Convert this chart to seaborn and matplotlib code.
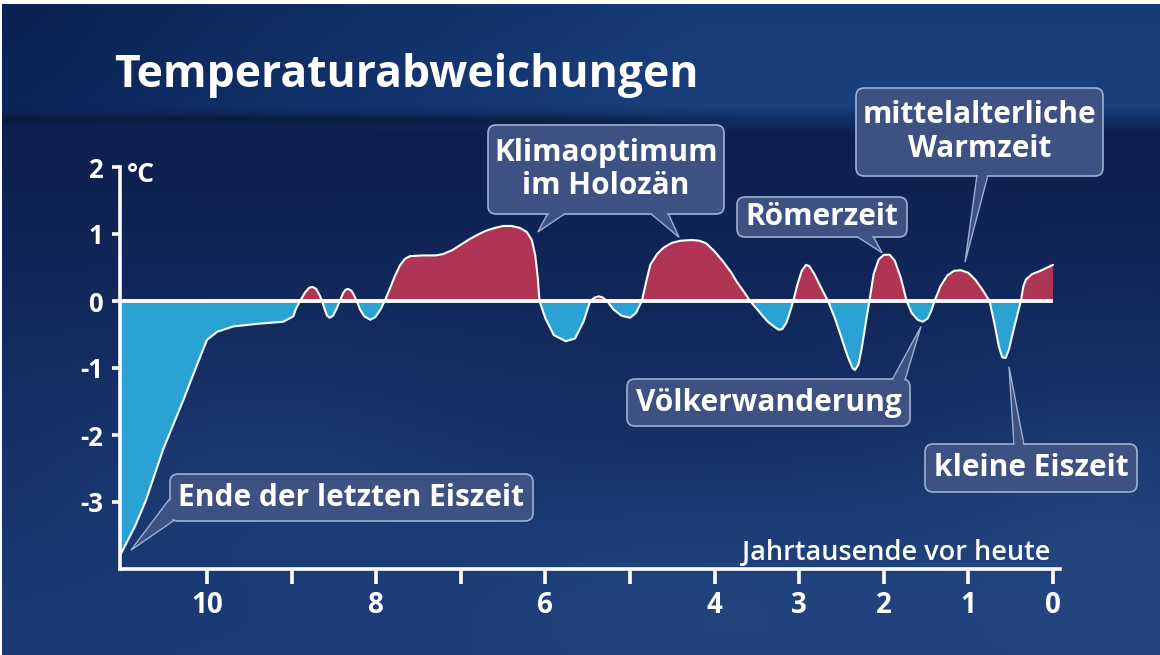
import numpy as np
import matplotlib
matplotlib.use("Agg")
import matplotlib.pyplot as plt
from matplotlib.patches import FancyBboxPatch, Polygon
import seaborn as sns

# Jahrtausende vor heute
kyr = [11.02, 10.85, 10.72, 10.52, 10.28, 10.12, 10.0, 9.88, 9.69, 9.4, 9.1, 8.98,
       8.95, 8.9, 8.84, 8.79, 8.75, 8.71, 8.67, 8.64, 8.61, 8.58, 8.55, 8.51, 8.47,
       8.43, 8.39, 8.36, 8.33, 8.29, 8.26, 8.23, 8.19, 8.14, 8.07, 8.01, 7.95, 7.9,
       7.84, 7.78, 7.72, 7.66, 7.6, 7.45, 7.3, 7.21, 7.1, 7.0, 6.9, 6.8, 6.7, 6.6,
       6.5, 6.4, 6.3, 6.22, 6.16, 6.12, 6.09, 6.07, 6.0, 5.9, 5.76, 5.65, 5.55, 5.47,
       5.42, 5.37, 5.32, 5.27, 5.2, 5.1, 5.0, 4.93, 4.86, 4.81, 4.76, 4.68, 4.6, 4.5,
       4.4, 4.27, 4.18, 4.1, 4.0, 3.9, 3.8, 3.74, 3.66, 3.58, 3.5, 3.42, 3.37, 3.3,
       3.24, 3.2, 3.15, 3.11, 3.07, 3.02, 2.97, 2.92, 2.88, 2.82, 2.75, 2.66, 2.58,
       2.5, 2.43, 2.37, 2.34, 2.3, 2.26, 2.22, 2.17, 2.12, 2.06, 2.0, 1.93, 1.87, 1.8,
       1.73, 1.67, 1.6, 1.54, 1.48, 1.44, 1.40, 1.33, 1.25, 1.17, 1.09, 1.0, 0.92,
       0.84, 0.75, 0.69, 0.64, 0.6, 0.56, 0.52, 0.47, 0.42, 0.38, 0.35, 0.32, 0.25,
       0.15, 0.05, 0.0]

# Temperaturabweichung in °C
temp = [-3.78, -3.36, -2.97, -2.22, -1.48, -0.96, -0.58, -0.46, -0.38, -0.34, -0.31, -0.23,
        -0.12, 0.0, 0.13, 0.2, 0.21, 0.18, 0.09, 0.0, -0.12, -0.22, -0.25, -0.22, -0.12,
        0.0, 0.12, 0.17, 0.18, 0.15, 0.08, 0.0, -0.13, -0.23, -0.28, -0.24, -0.13, 0.0,
        0.18, 0.37, 0.53, 0.63, 0.67, 0.68, 0.68, 0.70, 0.76, 0.84, 0.92, 0.99, 1.05, 1.09,
        1.12, 1.12, 1.09, 1.03, 0.91, 0.68, 0.35, 0.0, -0.26, -0.51, -0.60, -0.56, -0.31, 0.0,
        0.05, 0.07, 0.05, 0.0, -0.12, -0.22, -0.25, -0.18, 0.0, 0.28, 0.54, 0.70, 0.80, 0.87,
        0.90, 0.91, 0.90, 0.86, 0.74, 0.59, 0.42, 0.29, 0.15, 0.0, -0.12, -0.24, -0.31, -0.38,
        -0.43, -0.42, -0.32, -0.17, 0.0, 0.25, 0.45, 0.54, 0.52, 0.40, 0.22, 0.0, -0.25,
        -0.55, -0.82, -1.0, -1.03, -0.95, -0.70, -0.38, 0.0, 0.40, 0.62, 0.69, 0.69, 0.60, 0.35,
        0.0, -0.18, -0.28, -0.31, -0.26, -0.15, 0.0, 0.22, 0.38, 0.45, 0.46, 0.42, 0.32,
        0.18, 0.0, -0.35, -0.68, -0.84, -0.85, -0.72, -0.45, -0.20, 0.0, 0.22, 0.32, 0.40,
        0.45, 0.51, 0.54]

x_ticks = [10, 9, 8, 7, 6, 5, 4, 3, 2, 1, 0]
x_labels = ["10", "", "8", "", "6", "", "4", "3", "2", "1", "0"]
y_ticks = [-3, -2, -1, 0, 1, 2]
y_labels = ["-3", "-2", "-1", "0", "1", "2"]

# text, box in pixels (x0, y0, x1, y1), pointers: (base a, base b, tip in data coords)
callouts = [
    ("Klimaoptimum\nim Holozän", (488, 125, 724, 214),
     [((548, 213), (566, 213), (6.09, 1.03)), ((650, 213), (668, 213), (4.42, 0.95))]),
    ("Römerzeit", (737, 197, 907, 237), [((856, 236), (873, 236), (2.02, 0.72))]),
    ("mittelalterliche\nWarmzeit", (856, 88, 1103, 176), [((977, 175), (988, 175), (1.04, 0.58))]),
    ("Völkerwanderung", (627, 379, 910, 426), [((892, 380), (905, 380), (1.56, -0.38))]),
    ("kleine Eiszeit", (925, 444, 1137, 492), [((1014, 445), (1024, 445), (0.52, -0.98))]),
    ("Ende der letzten Eiszeit", (170, 474, 533, 521), [((171, 497), (176, 519), (10.9, -3.72))]),
]

RED = "#b03453"
BLUE = "#2aa2d4"
BOX_FACE = "#3d5283"
BOX_EDGE = "#9db0d4"

sns.set_theme(style="ticks")
plt.rcParams["font.family"] = ["Open Sans", "DejaVu Sans"]

W, H = 1160, 655
fig = plt.figure(figsize=(W / 100, H / 100), dpi=100, facecolor="white")

# background picture (TV graphic look)
yy, xx = np.mgrid[0:H, 0:W].astype(float)
top = np.array([13, 31, 78]) / 255
bot = np.array([27, 58, 116]) / 255
t = np.clip((yy - 120) / 535, 0, 1)[..., None]
bg = top * (1 - t) + bot * t
fog = np.exp(-((xx - 720) / 330) ** 2 - ((yy - 600) / 110) ** 2)[..., None] * 0.45
fog2 = np.exp(-((xx - 1120) / 200) ** 2 - ((yy - 560) / 160) ** 2)[..., None] * 0.5
fog3 = np.exp(-((xx - 260) / 220) ** 2 - ((yy - 470) / 120) ** 2)[..., None] * 0.25
light = np.array([44, 82, 142]) / 255
for f in (fog, fog2, fog3):
    bg = bg * (1 - f) + light * f
band_l = np.array([12, 36, 88]) / 255
band_r = np.array([25, 64, 125]) / 255
s = np.clip(xx / 700, 0, 1)[..., None]
band = band_l * (1 - s) + band_r * s
vb = np.clip((yy - 10) / 110, 0, 1)[..., None]
band = band * (0.93 + 0.1 * vb)
fade = np.clip((yy - 100) / 30, 0, 1)[..., None]
bg = np.where((yy < 100)[..., None], band, band * (1 - fade) + bg * fade)
shadow = (np.exp(-((yy - 116) / 5) ** 2) * np.clip((760 - xx) / 200, 0, 1))[..., None] * 0.25
bg = bg * (1 - shadow)
bg = np.clip(bg, 0, 1)

bg_ax = fig.add_axes([0.0015, 0, 0.9985, 1 - 4 / H], zorder=0)
bg_ax.imshow(bg, aspect="auto", extent=(0, W, H, 0))
bg_ax.set_axis_off()

# chart axes
x_left, x_right = 11.03, -0.1
y_bottom, y_top = -4.0, 2.2
px_left = 1053 - 84.6 * x_left
px_right = 1053 - 84.6 * x_right
py_bottom = 301 + 67 * 4.0
py_top = 301 - 67 * y_top
ax = fig.add_axes([px_left / W, 1 - py_bottom / H, (px_right - px_left) / W,
                   (py_bottom - py_top) / H], zorder=1)
ax.set_facecolor("none")
ax.set_xlim(x_left, x_right)
ax.set_ylim(y_bottom, y_top)

kyr_a = np.array(kyr)
temp_a = np.array(temp)
ax.fill_between(kyr_a, temp_a, 0, where=temp_a >= 0, interpolate=True,
                color=RED, lw=0, zorder=2)
ax.fill_between(kyr_a, temp_a, 0, where=temp_a <= 0, interpolate=True,
                color=BLUE, lw=0, zorder=2)
sns.lineplot(x=kyr, y=temp, sort=False, estimator=None, color="white",
             linewidth=1.5, ax=ax, zorder=3)
ax.hlines(0, x_left, kyr[-1], color="white", lw=2.8, zorder=4)

for side in ("top", "right"):
    ax.spines[side].set_visible(False)
for side in ("left", "bottom"):
    ax.spines[side].set_color("white")
    ax.spines[side].set_linewidth(2.6)
ax.spines["left"].set_bounds(y_bottom, 2)
ax.spines["bottom"].set_bounds(x_left, -0.08)

ax.set_xticks(x_ticks)
ax.set_xticklabels(x_labels)
ax.set_yticks(y_ticks)
ax.set_yticklabels(y_labels)
ax.tick_params(axis="x", direction="out", length=11, width=2.6, color="white",
               labelcolor="white", labelsize=20, pad=5)
ax.tick_params(axis="y", direction="out", length=6, width=2.6, color="white",
               labelcolor="white", labelsize=18.5, pad=6)
for lab in ax.get_xticklabels() + ax.get_yticklabels():
    lab.set_fontweight("bold")
ax.set_xlabel("")
ax.set_ylabel("")

# overlay in pixel coordinates for texts and callouts
ov = fig.add_axes([0, 0, 1, 1], zorder=2)
ov.set_xlim(0, W)
ov.set_ylim(H, 0)
ov.set_axis_off()
ov.patch.set_alpha(0)

ov.text(114, 75, "Temperaturabweichungen", color="white", fontsize=32,
        fontweight="bold", va="center", ha="left")
ov.text(127, 175, "°C", color="white", fontsize=19, fontweight="bold", va="center")
ov.text(1050, 553, "Jahrtausende vor heute", color="white", fontsize=19.5,
        fontweight="semibold", va="center", ha="right")


def to_px(x, y):
    dx, dy = ax.transData.transform((x, y))
    return dx, H - dy


for text, (x0, y0, x1, y1), pointers in callouts:
    for a, b, tip in pointers:
        tp = to_px(*tip)
        ov.add_patch(Polygon([a, b, tp], closed=True, facecolor=BOX_FACE,
                             edgecolor=BOX_EDGE, lw=1.0, zorder=5))
    ov.add_patch(FancyBboxPatch((x0, y0), x1 - x0, y1 - y0,
                                boxstyle="round,pad=0,rounding_size=8",
                                facecolor=BOX_FACE, edgecolor=BOX_EDGE, lw=1.2,
                                zorder=6))
    for a, b, tip in pointers:
        tp = np.array(to_px(*tip))
        a2, b2 = np.array(a, float), np.array(b, float)
        cover = [a2 + 0.12 * (tp - a2) + (b2 - a2) * 0.08,
                 b2 + 0.12 * (tp - b2) - (b2 - a2) * 0.08,
                 b2 - (b2 - a2) * 0.08, a2 + (b2 - a2) * 0.08]
        ov.add_patch(Polygon(cover, closed=True, facecolor=BOX_FACE,
                             edgecolor="none", zorder=7))
    ov.text((x0 + x1) / 2, (y0 + y1) / 2, text, color="white", fontsize=21.5,
            fontweight="bold", ha="center", va="center", linespacing=1.15, zorder=8)

fig.savefig("out.png", dpi=100, facecolor="white")
